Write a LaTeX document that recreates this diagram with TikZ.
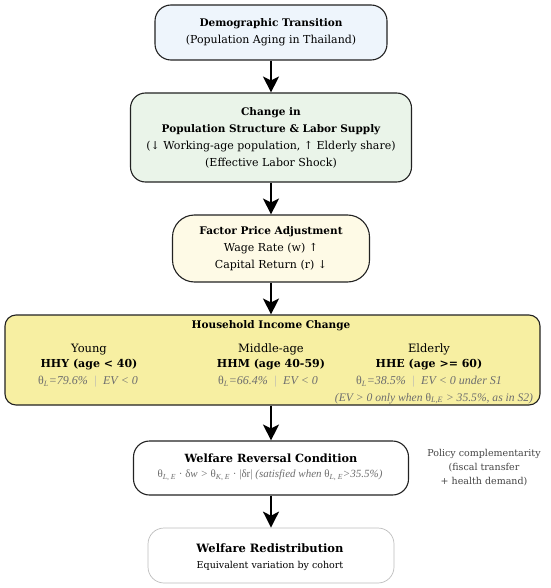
\documentclass[tikz,border=0pt]{standalone}
\usepackage{fontspec}
\setmainfont{DejaVu Serif}
\newfontfamily\timesfont{Liberation Serif}
\usepackage{tikz}
\usetikzlibrary{arrows.meta,positioning}
\definecolor{demoblue}{HTML}{EEF5FC}
\definecolor{popgreen}{HTML}{EAF4E9}
\definecolor{pricecream}{HTML}{FEFAE6}
\definecolor{incomeyellow}{HTML}{F7EFA2}
\definecolor{redisline}{HTML}{BDBDBD}
\definecolor{notegrey}{HTML}{6E6E6E}
\definecolor{sepgrey}{HTML}{B5B5B5}
\definecolor{boxline}{HTML}{222222}
\newcommand{\sep}{\textcolor{sepgrey}{\enspace|\enspace}}

\begin{document}
\begin{tikzpicture}[x=1pt, y=-1pt,
  stage/.style={draw=boxline, line width=1.1pt, align=center, inner sep=0pt, font=\fontsize{11}{17}\selectfont},
  hd/.style={font=\fontsize{10.5}{17}\selectfont\bfseries},
  flow/.style={-{Stealth[length=16pt, width=16pt, inset=4pt]}, line width=1.8pt, black},
  cohort/.style={align=center, font=\fontsize{11.5}{15.5}\selectfont},
  share/.style={text=notegrey, font=\fontsize{12}{13}\timesfont\itshape},
]
\useasboundingbox (0,0) rectangle (550,588);

% Stages (top to bottom)
\node[stage, fill=demoblue, rounded corners=16pt, minimum width=232pt, minimum height=55pt] (demo) at (271,32.5)
  {{\fontsize{10.5}{17}\selectfont\bfseries Demographic Transition}\\(Population Aging in Thailand)};
\node[stage, fill=popgreen, rounded corners=15pt, minimum width=281pt, minimum height=89pt] (pop) at (271,137.5)
  {{\fontsize{10.5}{17}\selectfont\bfseries Change in}\\{\fontsize{10.5}{17}\selectfont\bfseries Population Structure \& Labor Supply}\\(↓ Working-age population, ↑ Elderly share)\\(Effective Labor Shock)};
\node[stage, fill=pricecream, rounded corners=22pt, minimum width=197pt, minimum height=67pt] (price) at (271,248.5)
  {{\fontsize{10.5}{17}\selectfont\bfseries Factor Price Adjustment}\\Wage Rate (w) ↑\\Capital Return (r) ↓};
\node[stage, fill=incomeyellow, rounded corners=11pt, minimum width=535pt, minimum height=90pt] (income) at (272.5,360) {};
\node[stage, fill=white, rounded corners=16pt, minimum width=275pt, minimum height=54pt] (cond) at (271,468) {};
\node[stage, draw=redisline, line width=0.7pt, fill=white, rounded corners=16pt, minimum width=246pt, minimum height=55pt] (redis) at (271,555.5) {};

% Household income change contents
\node[hd] (hictitle) at (271,326) {Household Income Change};
\node[cohort] (young) at (89,357) {Young\\{\fontsize{11}{15.5}\selectfont\bfseries HHY (age < 40)}};
\node[share] (youngev) at (88,382) {{\upshape θ}\textsubscript{L}=79.6\%\sep EV < 0};
\node[cohort] (middle) at (271,357) {Middle-age\\{\fontsize{11}{15.5}\selectfont\bfseries HHM (age 40-59)}};
\node[share] (middleev) at (268,382) {{\upshape θ}\textsubscript{L}=66.4\%\sep EV < 0};
\node[cohort] (elderly) at (429,357) {Elderly\\{\fontsize{11}{15.5}\selectfont\bfseries HHE (age >= 60)}};
\node[share] (elderlyev) at (429,382) {{\upshape θ}\textsubscript{L}=38.5\%\sep EV < 0 under S1};
\node[share, font=\fontsize{11.6}{13}\timesfont\itshape] (elderlycond) at (434,398.5) {(EV > 0 only when {\upshape θ}\textsubscript{L,E} > 35.5\%, as in S2)};

% Welfare reversal condition
\node[font=\fontsize{11.3}{14}\selectfont\bfseries] (condtitle) at (271,458) {Welfare Reversal Condition};
\node[share, font=\fontsize{11}{12}\timesfont\itshape] (condeq) at (270,475) {{\upshape θ}\textsubscript{L, E} {\upshape ·} {\upshape δ}w > {\upshape θ}\textsubscript{K, E} {\upshape ·} {\upshape |δr|} (satisfied when {\upshape θ}\textsubscript{L, E}>35.5\%)};

% Welfare redistribution
\node[font=\fontsize{11.5}{14}\selectfont\bfseries] (redistitle) at (270,548) {Welfare Redistribution};
\node[font=\fontsize{9.5}{12}\selectfont] (redissub) at (270,566) {Equivalent variation by cohort};

% Side note
\node[align=center, text=boxline!85, font=\fontsize{9.5}{14}\selectfont] (policy) at (484,468) {Policy complementarity\\(fiscal transfer\\+ health demand)};

% Flow arrows
\draw[flow] (demo) -- (pop);
\draw[flow] (pop) -- (price);
\draw[flow] (price) -- (price |- income.north);
\draw[flow] (price |- income.south) -- (cond);
\draw[flow] (cond) -- (redis);
\end{tikzpicture}
\end{document}
